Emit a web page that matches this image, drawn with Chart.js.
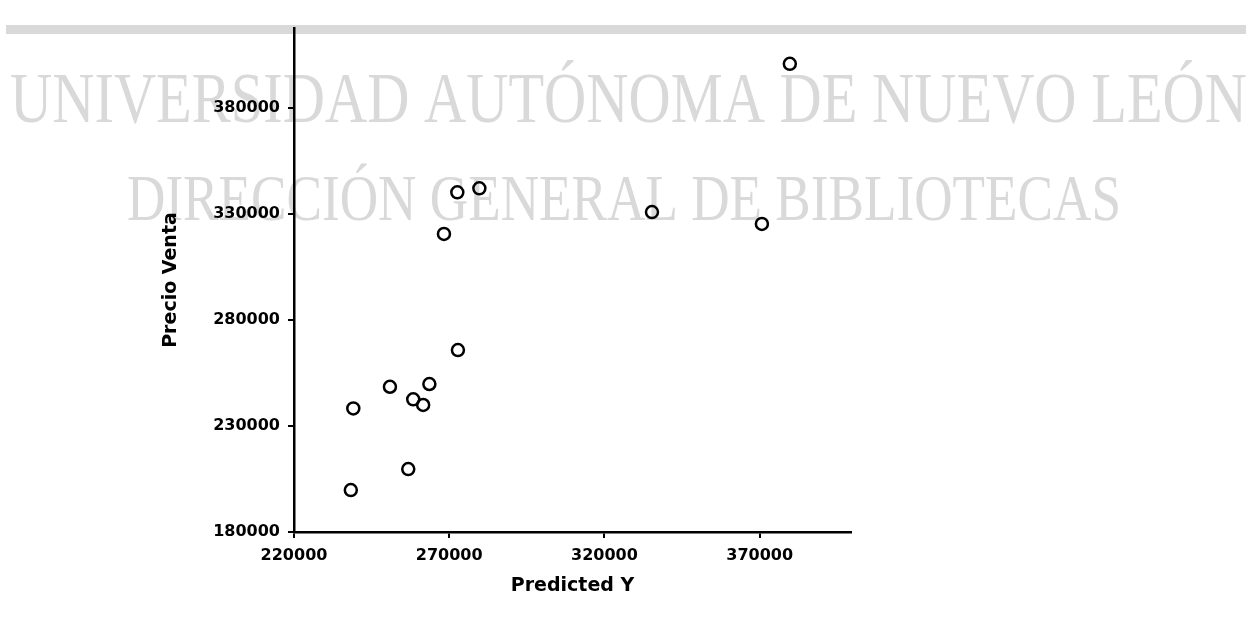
<!DOCTYPE html>
<html>
<head>
<meta charset="utf-8">
<script src="https://cdn.jsdelivr.net/npm/chart.js@4.4.1/dist/chart.umd.min.js"></script>
<style>
  html, body { margin: 0; padding: 0; background: #ffffff; }
  #wrap { position: relative; width: 1251px; height: 619px; }
</style>
</head>
<body>
<div id="wrap"><canvas id="c" width="1251" height="619"></canvas></div>
<script>
// ---- data ----
const predictedY  = [379700, 272600, 279700, 268300, 335300, 370700, 272800, 250900, 263600, 258400, 261600, 239100, 256800, 238300];
const precioVenta = [400800, 340200, 342100, 320600, 330900, 325300, 265800, 248500, 249800, 242600, 239900, 238300, 209700, 199800];
const xTickValues = [220000, 270000, 320000, 370000];
const yTickValues = [180000, 230000, 280000, 330000, 380000];
const xTitle = 'Predicted Y';
const yTitle = 'Precio Venta';
const watermarkLine1 = 'UNIVERSIDAD AUTÓNOMA DE NUEVO LEÓN';
const watermarkLine2 = 'DIRECCIÓN GENERAL DE BIBLIOTECAS';

const points = predictedY.map((x, i) => ({ x: x, y: precioVenta[i] }));

function drawStretched(ctx, text, x0, x1, baseline, size) {
  ctx.save();
  ctx.font = size + 'px "Liberation Serif", "Times New Roman", serif';
  ctx.textBaseline = 'alphabetic';
  ctx.textAlign = 'left';
  const w = ctx.measureText(text).width;
  ctx.translate(x0, baseline);
  ctx.scale((x1 - x0) / w, 1);
  ctx.fillText(text, 0, 0);
  ctx.restore();
}

const watermark = {
  id: 'watermark',
  beforeDraw(chart) {
    const ctx = chart.ctx;
    ctx.save();
    ctx.fillStyle = '#ffffff';
    ctx.fillRect(0, 0, chart.width, chart.height);
    ctx.fillStyle = '#d9d9d9';
    ctx.fillRect(6, 25, 1240, 9);
    drawStretched(ctx, watermarkLine1, 10, 1247, 122, 72);
    drawStretched(ctx, watermarkLine2, 127, 1121, 220, 65);
    ctx.restore();
  }
};

const tickFont = { family: '"DejaVu Sans", sans-serif', size: 16, weight: 'bold' };
const titleFont = { family: '"DejaVu Sans", sans-serif', size: 19, weight: 'bold' };

new Chart(document.getElementById('c'), {
  type: 'scatter',
  data: {
    datasets: [{
      data: points,
      pointStyle: 'circle',
      pointRadius: 6,
      pointHoverRadius: 6,
      pointBorderWidth: 2.5,
      pointBorderColor: '#000000',
      pointBackgroundColor: 'rgba(0,0,0,0)',
      showLine: false
    }]
  },
  options: {
    responsive: false,
    devicePixelRatio: 1,
    animation: false,
    layout: { padding: { left: 0, right: 400, top: 28, bottom: 0 } },
    plugins: { legend: { display: false }, tooltip: { enabled: false } },
    scales: {
      x: {
        type: 'linear',
        min: 220000,
        max: 399400,
        afterFit(s) { s.height = 87; },
        afterBuildTicks(s) { s.ticks = xTickValues.map(v => ({ value: v })); },
        border: { display: true, color: '#000000', width: 2.5 },
        grid: { display: true, drawOnChartArea: false, drawTicks: true, tickLength: 6, color: '#000000', lineWidth: 2 },
        ticks: { color: '#000000', font: tickFont, padding: 8, maxRotation: 0, callback: v => String(v) },
        title: { display: true, text: xTitle, color: '#000000', font: titleFont, padding: { top: 0, bottom: 22 } }
      },
      y: {
        type: 'linear',
        min: 180000,
        max: 417700,
        afterFit(s) { s.width = 294; },
        afterBuildTicks(s) { s.ticks = yTickValues.map(v => ({ value: v })); },
        border: { display: true, color: '#000000', width: 2.5 },
        grid: { display: true, drawOnChartArea: false, drawTicks: true, tickLength: 6, color: '#000000', lineWidth: 2 },
        ticks: { color: '#000000', font: tickFont, padding: 8, callback: v => String(v) },
        title: { display: true, text: yTitle, color: '#000000', font: titleFont, padding: { top: 160, bottom: 0 } }
      }
    }
  },
  plugins: [watermark]
});
</script>
</body>
</html>
